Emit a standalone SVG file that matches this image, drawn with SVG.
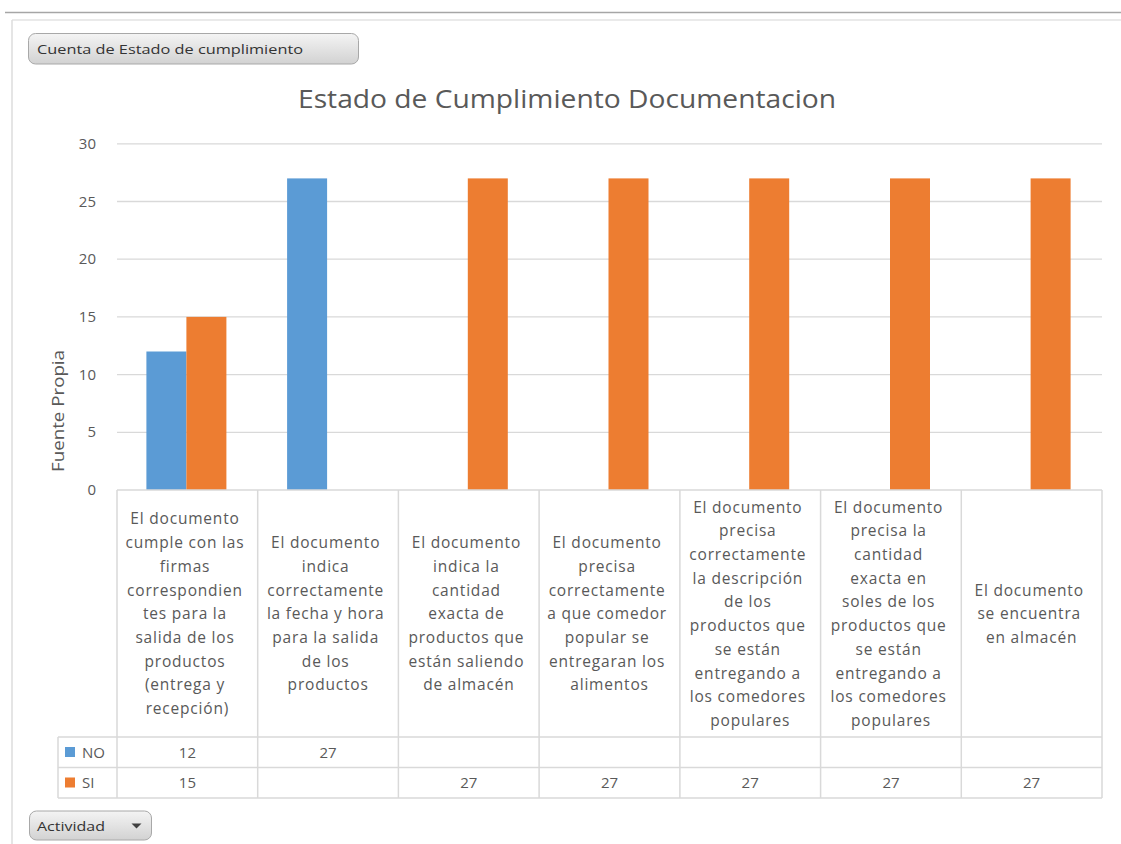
<svg xmlns="http://www.w3.org/2000/svg" width="1121" height="844" viewBox="0 0 1121 844">
<defs>
<linearGradient id="btn" x1="0" y1="0" x2="0" y2="1">
<stop offset="0" stop-color="#f4f4f4"/>
<stop offset="1" stop-color="#d2d2d2"/>
</linearGradient>
<style>
.t{font-family:"Open Sans","Liberation Sans",sans-serif;fill:#595959}
.cat{font-size:15.5px;letter-spacing:0.8px;text-anchor:middle}
.tick{font-size:15px;text-anchor:end}
.val{font-size:15px;text-anchor:middle}
.grid{stroke:#d9d9d9;stroke-width:1.3}
.tbl{stroke:#d9d9d9;stroke-width:1.5;fill:none}
.no{fill:#5b9bd5}
.si{fill:#ed7d31}
.btnt{font-family:"Open Sans","Liberation Sans",sans-serif;font-size:13.5px;fill:#333}
</style>
</defs>
<rect width="1121" height="844" fill="#fff"/>
<!-- frame -->
<line x1="5" y1="12.5" x2="1121" y2="12.5" stroke="#a6a6a6" stroke-width="1.5"/>
<line x1="12" y1="20" x2="1121" y2="20" stroke="#e3e3e3" stroke-width="1.5"/>
<line x1="12" y1="20" x2="12" y2="844" stroke="#dcdcdc" stroke-width="1.5"/>

<g id="button-cuenta">
<rect x="28.5" y="33.5" width="330" height="30.5" rx="7" fill="url(#btn)" stroke="#a8a8a8"/>
<text class="btnt" x="37" y="54" textLength="266" lengthAdjust="spacingAndGlyphs">Cuenta de Estado de cumplimiento</text>
</g>

<g id="title">
<text class="t" x="567" y="108" font-size="25" text-anchor="middle" textLength="538" lengthAdjust="spacingAndGlyphs">Estado de Cumplimiento Documentacion</text>
</g>

<g id="gridlines">
<line class="grid" x1="117" y1="143.8" x2="1102" y2="143.8"/>
<line class="grid" x1="117" y1="201.5" x2="1102" y2="201.5"/>
<line class="grid" x1="117" y1="259.2" x2="1102" y2="259.2"/>
<line class="grid" x1="117" y1="316.9" x2="1102" y2="316.9"/>
<line class="grid" x1="117" y1="374.6" x2="1102" y2="374.6"/>
<line class="grid" x1="117" y1="432.3" x2="1102" y2="432.3"/>
</g>

<g id="y-axis">
<text class="t tick" x="96" y="149">30</text>
<text class="t tick" x="96" y="206.5">25</text>
<text class="t tick" x="96" y="264.2">20</text>
<text class="t tick" x="96" y="322">15</text>
<text class="t tick" x="96" y="379.6">10</text>
<text class="t tick" x="96" y="437.3">5</text>
<text class="t tick" x="96" y="495">0</text>
<text class="t" x="0" y="0" font-size="16" text-anchor="middle" textLength="122" lengthAdjust="spacingAndGlyphs" transform="translate(64 411) rotate(-90)">Fuente Propia</text>
</g>

<g id="bars">
<rect class="no" x="146.4" y="351.5" width="40" height="138.5"/>
<rect class="si" x="186.4" y="316.9" width="40" height="173.1"/>
<rect class="no" x="287.1" y="178.4" width="40" height="311.6"/>
<rect class="si" x="467.8" y="178.4" width="40" height="311.6"/>
<rect class="si" x="608.5" y="178.4" width="40" height="311.6"/>
<rect class="si" x="749.2" y="178.4" width="40" height="311.6"/>
<rect class="si" x="890" y="178.4" width="40" height="311.6"/>
<rect class="si" x="1030.6" y="178.4" width="40" height="311.6"/>
</g>

<g id="table">
<line class="tbl" x1="117" y1="490" x2="1102" y2="490"/>
<line class="tbl" x1="58" y1="737" x2="1102" y2="737"/>
<line class="tbl" x1="58" y1="767.5" x2="1102" y2="767.5"/>
<line class="tbl" x1="58" y1="798" x2="1102" y2="798"/>
<line class="tbl" x1="58" y1="737" x2="58" y2="798"/>
<line class="tbl" x1="117" y1="490" x2="117" y2="798"/>
<line class="tbl" x1="257.7" y1="490" x2="257.7" y2="798"/>
<line class="tbl" x1="398.4" y1="490" x2="398.4" y2="798"/>
<line class="tbl" x1="539.1" y1="490" x2="539.1" y2="798"/>
<line class="tbl" x1="679.9" y1="490" x2="679.9" y2="798"/>
<line class="tbl" x1="820.6" y1="490" x2="820.6" y2="798"/>
<line class="tbl" x1="961.3" y1="490" x2="961.3" y2="798"/>
<line class="tbl" x1="1102" y1="490" x2="1102" y2="798"/>
</g>

<g id="cat1">
<text class="t cat">
<tspan x="187.4" y="524.4">El documento</tspan>
<tspan x="187.4" y="548.1">cumple con las</tspan>
<tspan x="187.4" y="571.8">firmas</tspan>
<tspan x="187.4" y="595.5">correspondien</tspan>
<tspan x="187.4" y="619.2">tes para la</tspan>
<tspan x="187.4" y="642.9">salida de los</tspan>
<tspan x="187.4" y="666.6">productos</tspan>
<tspan x="187.4" y="690.3">(entrega y</tspan>
<tspan x="187.4" y="714">recepción)</tspan>
</text>
</g>
<g id="cat2">
<text class="t cat">
<tspan x="328.1" y="548.1">El documento</tspan>
<tspan x="328.1" y="571.8">indica</tspan>
<tspan x="328.1" y="595.5">correctamente</tspan>
<tspan x="328.1" y="619.2">la fecha y hora</tspan>
<tspan x="328.1" y="642.9">para la salida</tspan>
<tspan x="328.1" y="666.6">de los</tspan>
<tspan x="328.1" y="690.3">productos</tspan>
</text>
</g>
<g id="cat3">
<text class="t cat">
<tspan x="468.8" y="548.1">El documento</tspan>
<tspan x="468.8" y="571.8">indica la</tspan>
<tspan x="468.8" y="595.5">cantidad</tspan>
<tspan x="468.8" y="619.2">exacta de</tspan>
<tspan x="468.8" y="642.9">productos que</tspan>
<tspan x="468.8" y="666.6">están saliendo</tspan>
<tspan x="468.8" y="690.3">de almacén</tspan>
</text>
</g>
<g id="cat4">
<text class="t cat">
<tspan x="609.5" y="548.1">El documento</tspan>
<tspan x="609.5" y="571.8">precisa</tspan>
<tspan x="609.5" y="595.5">correctamente</tspan>
<tspan x="609.5" y="619.2">a que comedor</tspan>
<tspan x="609.5" y="642.9">popular se</tspan>
<tspan x="609.5" y="666.6">entregaran los</tspan>
<tspan x="609.5" y="690.3">alimentos</tspan>
</text>
</g>
<g id="cat5">
<text class="t cat">
<tspan x="750.2" y="512.6">El documento</tspan>
<tspan x="750.2" y="536.3">precisa</tspan>
<tspan x="750.2" y="560">correctamente</tspan>
<tspan x="750.2" y="583.7">la descripción</tspan>
<tspan x="750.2" y="607.4">de los</tspan>
<tspan x="750.2" y="631.1">productos que</tspan>
<tspan x="750.2" y="654.8">se están</tspan>
<tspan x="750.2" y="678.5">entregando a</tspan>
<tspan x="750.2" y="702.2">los comedores</tspan>
<tspan x="750.2" y="725.9">populares</tspan>
</text>
</g>
<g id="cat6">
<text class="t cat">
<tspan x="891" y="512.6">El documento</tspan>
<tspan x="891" y="536.3">precisa la</tspan>
<tspan x="891" y="560">cantidad</tspan>
<tspan x="891" y="583.7">exacta en</tspan>
<tspan x="891" y="607.4">soles de los</tspan>
<tspan x="891" y="631.1">productos que</tspan>
<tspan x="891" y="654.8">se están</tspan>
<tspan x="891" y="678.5">entregando a</tspan>
<tspan x="891" y="702.2">los comedores</tspan>
<tspan x="891" y="725.9">populares</tspan>
</text>
</g>
<g id="cat7">
<text class="t cat">
<tspan x="1031.6" y="595.5">El documento</tspan>
<tspan x="1031.6" y="619.2">se encuentra</tspan>
<tspan x="1031.6" y="642.9">en almacén</tspan>
</text>
</g>

<g id="legend-rows">
<rect class="no" x="65" y="747" width="10" height="10"/>
<text class="t" x="82" y="758" font-size="15">NO</text>
<rect class="si" x="65" y="777.5" width="10" height="10"/>
<text class="t" x="82" y="788" font-size="15">SI</text>
</g>

<g id="values">
<text class="t val" x="187.4" y="758">12</text>
<text class="t val" x="328.1" y="758">27</text>
<text class="t val" x="187.4" y="788">15</text>
<text class="t val" x="468.8" y="788">27</text>
<text class="t val" x="609.5" y="788">27</text>
<text class="t val" x="750.2" y="788">27</text>
<text class="t val" x="891" y="788">27</text>
<text class="t val" x="1031.6" y="788">27</text>
</g>

<g id="button-actividad">
<rect x="29.5" y="811" width="122" height="29" rx="7" fill="url(#btn)" stroke="#a8a8a8"/>
<text class="btnt" x="37" y="831" textLength="68" lengthAdjust="spacingAndGlyphs">Actividad</text>
<polygon points="131.5,823.5 141.5,823.5 136.5,828.5" fill="#404040"/>
</g>
</svg>
